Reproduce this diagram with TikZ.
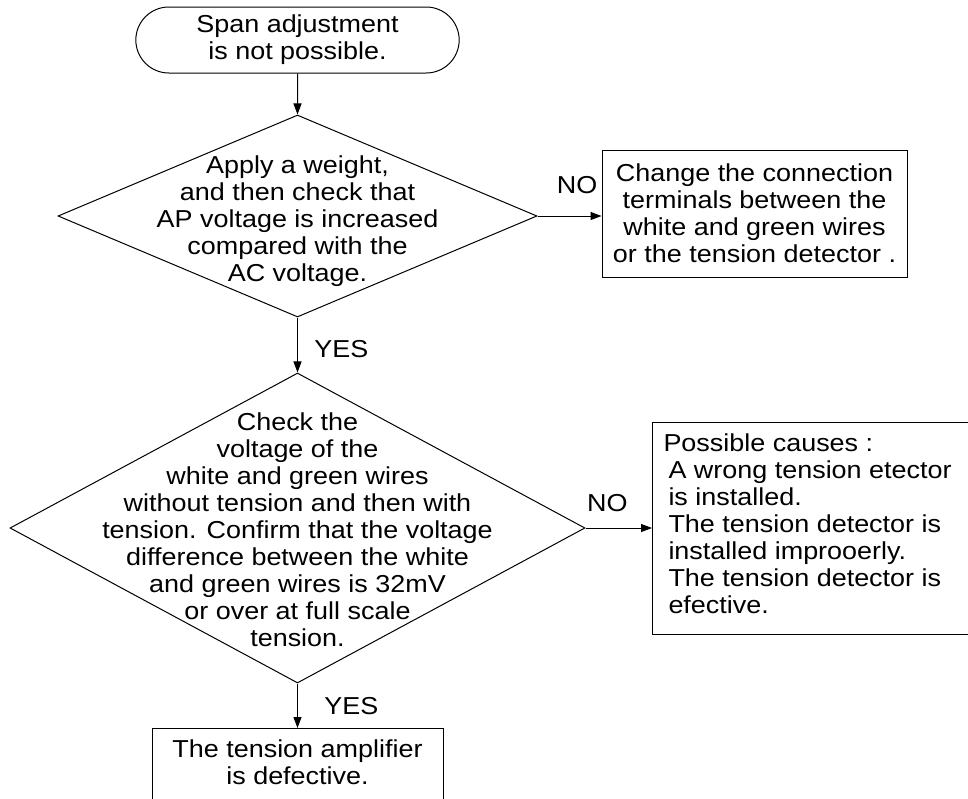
\documentclass[tikz,border=0pt]{standalone}
\usepackage{fontspec}
\setmainfont{Liberation Sans}[FakeStretch=1.1]
\usetikzlibrary{shapes.geometric,shapes.misc,arrows.meta}
\begin{document}
\begin{tikzpicture}[x=1pt,y=-1pt,line width=1pt,>={Triangle[length=11pt,width=8pt]},
every node/.style={font=\fontsize{24.5}{27}\selectfont},
term/.style={rounded rectangle, draw, minimum width=330pt, minimum height=66pt, align=center},
decision/.style={diamond, draw, inner sep=0pt},
box/.style={rectangle, draw, inner sep=0pt},
txt/.style={align=center, inner sep=3pt}]
\useasboundingbox (0,0) rectangle (968,798);
\clip (0,0) rectangle (968,798);

\node[term] (1) at (297.5,40) {Span adjustment\\is not possible.};
\node[decision, minimum width=479pt, minimum height=202pt] (2) at (297.5,216) {};
\node[txt] (2t) at (297.5,221) {Apply a weight,\\and then check that\\AP voltage is increased\\compared with the\\AC voltage.};
\node[box, minimum width=305pt, minimum height=127pt, align=center] (3) at (754.5,213.5) {Change the connection\\terminals between the\\white and green wires\\or the tension detector .};
\node[decision, minimum width=575pt, minimum height=310pt] (4) at (297.5,528) {};
\node[txt] (4t) at (297.5,530) {Check the\\voltage of the\\white and green wires\\without tension and then with\\tension. Confirm that the voltage\\difference between the white\\and green wires is 32mV\\or over at full scale\\tension.};
\node[box, minimum width=330pt, minimum height=212pt, anchor=west] (5) at (652,528) {};
\node[txt, align=left, anchor=west] (5t) at (660,524) {Possible causes :\\\hspace*{5pt}A wrong tension etector\\\hspace*{5pt}is installed.\\\hspace*{5pt}The tension detector is\\\hspace*{5pt}installed improoerly.\\\hspace*{5pt}The tension detector is\\\hspace*{5pt}efective.};
\node[box, minimum width=291pt, minimum height=100pt, anchor=north] (6) at (297.5,728) {};
\node[txt] (6t) at (297.5,762) {The tension amplifier\\is defective.};

\draw[->] (1) -- (2);
\draw[->] (2.east) -- node[pos=0.62, above=18pt] {NO} (2.east -| 3.west);
\draw[->] (2) -- node[pos=0.57, right=13pt] {YES} (4);
\draw[->] (4.east) -- node[pos=0.33, above=12pt] {NO} (4.east -| 5.west);
\draw[->] (4) -- node[midway, right=23pt] {YES} (6);
\end{tikzpicture}
\end{document}
